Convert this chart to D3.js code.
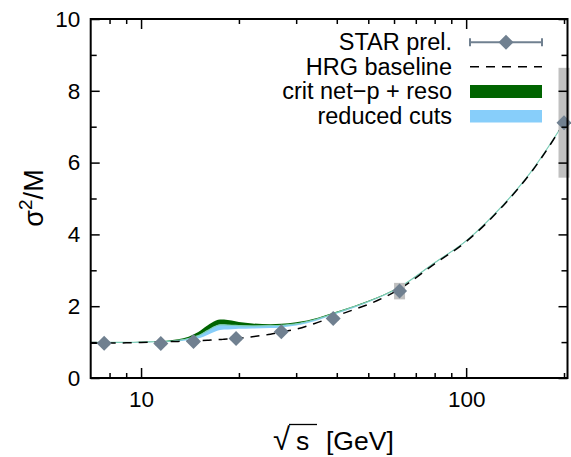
<!DOCTYPE html>
<html>
<head>
<meta charset="utf-8">
<script src="https://cdn.jsdelivr.net/npm/d3@7"></script>
<style>
body { margin: 0; background: #fff; }
svg { display: block; font-family: "Liberation Sans", Arial, sans-serif; }
</style>
</head>
<body>
<svg id="chart" width="571" height="457"></svg>
<script>
const width = 571;
const height = 457;

// STAR preliminary points
const starE = [7.7, 11.5, 14.5, 19.6, 27, 39, 62.4, 200];
const starY = [0.97, 0.96, 1.02, 1.10, 1.29, 1.66, 2.42, 7.11];
const starSys = [0.06, 0.06, 0.06, 0.06, 0.06, 0.06, 0.23, 1.53];

// model curves
const curveE  = [7, 9, 10, 11, 12, 13, 14, 15, 16, 17, 17.5, 18, 19, 20, 22, 25, 27, 30, 35, 39, 45, 50, 62.4, 80, 100, 130, 160, 200];
const hrgY    = [0.97, 0.98, 0.99, 1.00, 1.01, 1.02, 1.03, 1.04, 1.05, 1.07, 1.07, 1.08, 1.10, 1.11, 1.15, 1.22, 1.28, 1.36, 1.55, 1.70, 1.90, 2.05, 2.48, 3.18, 3.80, 4.80, 5.78, 7.10];
const critHi  = [1.00, 1.00, 1.01, 1.02, 1.04, 1.08, 1.15, 1.28, 1.46, 1.60, 1.63, 1.63, 1.60, 1.56, 1.52, 1.50, 1.51, 1.55, 1.68, 1.82, 2.00, 2.15, 2.54, 3.22, 3.83, 4.82, 5.80, 7.11];
const critMid = [0.99, 0.99, 1.00, 1.01, 1.02, 1.05, 1.10, 1.18, 1.32, 1.45, 1.48, 1.48, 1.47, 1.46, 1.45, 1.46, 1.47, 1.51, 1.65, 1.79, 1.98, 2.13, 2.53, 3.21, 3.82, 4.82, 5.80, 7.11];
const critLo  = [0.98, 0.98, 0.99, 1.00, 1.00, 1.02, 1.05, 1.10, 1.20, 1.30, 1.34, 1.35, 1.36, 1.37, 1.38, 1.39, 1.41, 1.46, 1.61, 1.76, 1.95, 2.11, 2.52, 3.20, 3.81, 4.81, 5.79, 7.10];

const xMajor = [10, 100];
const xMinor = [8, 9, 20, 30, 40, 50, 60, 70, 80, 90, 200];
const yMajor = [0, 2, 4, 6, 8, 10];
const yMinor = [1, 3, 5, 7, 9];

const legendLabels = ["STAR prel.", "HRG baseline", "crit net\u2212p + reso", "reduced cuts"];

const x = d3.scaleLog().domain([7, 205]).range([90.7, 567.5]);
const y = d3.scaleLinear().domain([0, 10]).range([378, 19]);

const svg = d3.select("#chart");

const rows = curveE.map((e, i) => ({e: e, hrg: hrgY[i], hi: critHi[i], mid: critMid[i], lo: critLo[i]}));
const pts = starE.map((e, i) => ({e: e, v: starY[i], sys: starSys[i]}));

// bands
svg.append("path")
    .datum(rows)
    .attr("fill", "#006400")
    .attr("d", d3.area().x(d => x(d.e)).y0(d => y(d.mid)).y1(d => y(d.hi)).curve(d3.curveMonotoneX));

svg.append("path")
    .datum(rows)
    .attr("fill", "#87cefa")
    .attr("d", d3.area().x(d => x(d.e)).y0(d => y(d.lo)).y1(d => y(d.mid)).curve(d3.curveMonotoneX));

svg.append("path")
    .datum(rows)
    .attr("fill", "none")
    .attr("stroke", "#7ccdb6")
    .attr("stroke-width", 1.2)
    .attr("d", d3.line().x(d => x(d.e)).y(d => y(d.mid)).curve(d3.curveMonotoneX));

// HRG baseline
svg.append("path")
    .datum(rows)
    .attr("fill", "none")
    .attr("stroke", "black")
    .attr("stroke-width", 1.5)
    .attr("stroke-dasharray", "9,7")
    .attr("d", d3.line().x(d => x(d.e)).y(d => y(d.hrg)).curve(d3.curveMonotoneX));

// systematic boxes
svg.selectAll(".sys").data(pts).enter()
    .append("rect")
    .attr("class", "sys")
    .attr("x", d => x(d.e) - 5.5)
    .attr("width", 11)
    .attr("y", d => y(d.v + d.sys))
    .attr("height", d => y(d.v - d.sys) - y(d.v + d.sys))
    .attr("fill", "#c0c0c0");

const diamond = (cx, cy) => "M" + cx + "," + (cy - 7.5) + "L" + (cx + 7.5) + "," + cy +
    "L" + cx + "," + (cy + 7.5) + "L" + (cx - 7.5) + "," + cy + "Z";

svg.selectAll(".pt").data(pts).enter()
    .append("path")
    .attr("class", "pt")
    .attr("d", d => diamond(x(d.e), y(d.v)))
    .attr("fill", "#708090");

// axes (ticks inward on all sides)
function styleAxis(g) {
    g.select(".domain").remove();
    g.selectAll("line").attr("stroke", "black").attr("stroke-width", 1.5);
    g.selectAll("text").attr("font-size", 22.5).attr("fill", "black")
        .attr("font-family", "Liberation Sans, Arial, sans-serif");
}

svg.append("g").attr("transform", "translate(0,378)")
    .call(d3.axisBottom(x).tickValues(xMajor).tickSizeInner(-10).tickSizeOuter(0).tickPadding(13).tickFormat(d3.format("d")))
    .call(styleAxis);
svg.append("g").attr("transform", "translate(0,378)")
    .call(d3.axisBottom(x).tickValues(xMinor).tickSizeInner(-5).tickSizeOuter(0).tickFormat(""))
    .call(styleAxis);
svg.append("g").attr("transform", "translate(0,19)")
    .call(d3.axisTop(x).tickValues(xMajor).tickSizeInner(-10).tickSizeOuter(0).tickFormat(""))
    .call(styleAxis);
svg.append("g").attr("transform", "translate(0,19)")
    .call(d3.axisTop(x).tickValues(xMinor).tickSizeInner(-5).tickSizeOuter(0).tickFormat(""))
    .call(styleAxis);

svg.append("g").attr("transform", "translate(90.7,0)")
    .call(d3.axisLeft(y).tickValues(yMajor).tickSizeInner(-9).tickSizeOuter(0).tickPadding(10.5))
    .call(styleAxis);
svg.append("g").attr("transform", "translate(90.7,0)")
    .call(d3.axisLeft(y).tickValues(yMinor).tickSizeInner(-6).tickSizeOuter(0).tickFormat(""))
    .call(styleAxis);
svg.append("g").attr("transform", "translate(567.5,0)")
    .call(d3.axisRight(y).tickValues(yMajor).tickSizeInner(-9).tickSizeOuter(0).tickFormat(""))
    .call(styleAxis);
svg.append("g").attr("transform", "translate(567.5,0)")
    .call(d3.axisRight(y).tickValues(yMinor).tickSizeInner(-6).tickSizeOuter(0).tickFormat(""))
    .call(styleAxis);

// frame
svg.append("rect")
    .attr("x", x.range()[0])
    .attr("y", y.range()[1])
    .attr("width", x.range()[1] - x.range()[0])
    .attr("height", y.range()[0] - y.range()[1])
    .attr("fill", "none")
    .attr("stroke", "black")
    .attr("stroke-width", 2);

// axis titles
const xt = svg.append("text")
    .attr("y", 450)
    .attr("font-size", 26.5)
    .attr("fill", "black");
xt.append("tspan").attr("x", 273).attr("font-size", 31).text("\u221a");
xt.append("tspan").attr("x", 296).text("s");
xt.append("tspan").attr("x", 326).text("[GeV]");
svg.append("line")
    .attr("x1", 289).attr("x2", 317)
    .attr("y1", 424.5).attr("y2", 424.5)
    .attr("stroke", "black").attr("stroke-width", 1.3);

const yt = svg.append("text")
    .attr("transform", "translate(43,198) rotate(-90)")
    .attr("text-anchor", "middle")
    .attr("font-size", 27)
    .attr("fill", "black");
yt.append("tspan").text("\u03c3");
yt.append("tspan").attr("font-size", 19).attr("dy", -11).text("2");
yt.append("tspan").attr("dy", 11).text("/M");

// legend
const legend = svg.append("g");
legend.selectAll("text").data(legendLabels).enter()
    .append("text")
    .attr("x", 452)
    .attr("y", (d, i) => 50 + i * 24.5)
    .attr("text-anchor", "end")
    .attr("font-size", 23.5)
    .attr("fill", "black")
    .text(d => d);

legend.append("line")
    .attr("x1", 470).attr("x2", 542).attr("y1", 42.3).attr("y2", 42.3)
    .attr("stroke", "#708090").attr("stroke-width", 2);
legend.selectAll(".cap").data([470, 542]).enter()
    .append("line")
    .attr("x1", d => d).attr("x2", d => d).attr("y1", 38.3).attr("y2", 46.3)
    .attr("stroke", "#708090").attr("stroke-width", 2);
legend.append("path").attr("d", diamond(506, 42.3)).attr("fill", "#708090");

legend.append("line")
    .attr("x1", 470).attr("x2", 542).attr("y1", 66.8).attr("y2", 66.8)
    .attr("stroke", "black").attr("stroke-width", 1.5).attr("stroke-dasharray", "9,7");

legend.append("rect").attr("x", 470).attr("y", 85).attr("width", 72).attr("height", 13).attr("fill", "#006400");
legend.append("rect").attr("x", 470).attr("y", 110).attr("width", 72).attr("height", 12.5).attr("fill", "#87cefa");
</script>
</body>
</html>
